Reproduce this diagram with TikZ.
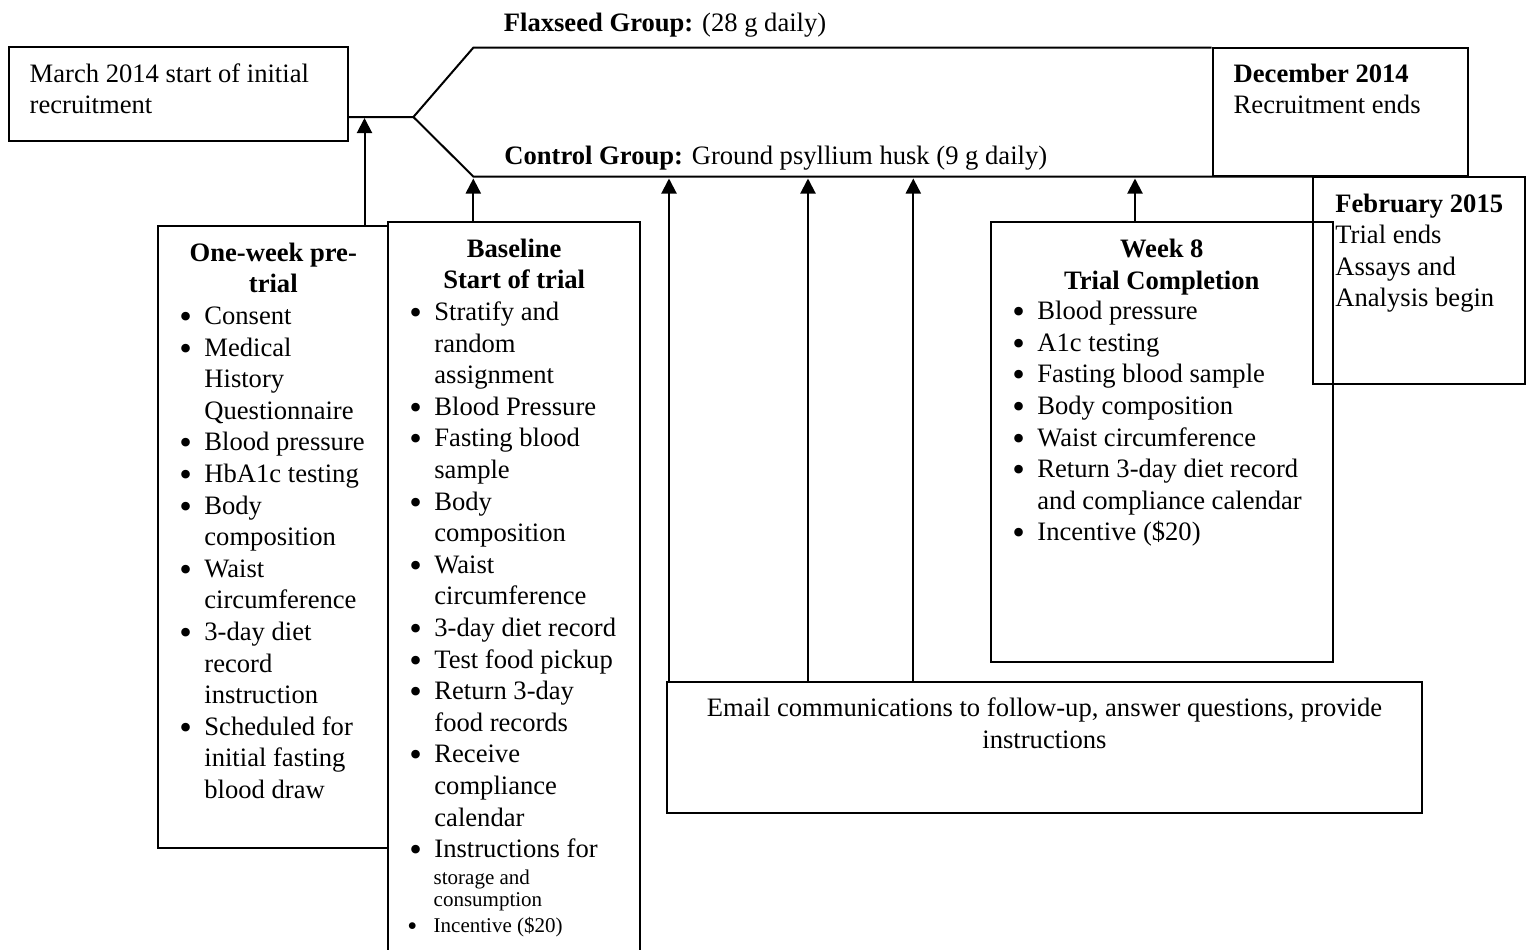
\documentclass[tikz,border=0pt]{standalone}
\usepackage{fontspec}
\setmainfont{Liberation Serif}
\usetikzlibrary{arrows.meta,fit}
\newcommand\fsz{\fontsize{13.3}{15.8}\selectfont}
\newcommand\fsm{\fontsize{10.5}{11}\selectfont}
\newcommand\fst{\rule{0pt}{11pt}}
\newcommand\bigbul{\hspace*{-0.8pt}\smash{\raisebox{-2pt}{\scalebox{1.35}{\textbullet}}}}
\newcommand\bul[1]{\makebox[11.75pt][l]{\bigbul}#1}
\newcommand\cnt[1]{\hspace*{11.75pt}#1}
\begin{document}
\begin{tikzpicture}[x=0.5pt,y=-0.5pt,
  box/.style={draw, line width=1pt, inner sep=0pt},
  ln/.style={line width=1pt},
  arr/.style={line width=1pt, -{Triangle[length=7.5pt,width=7.5pt]}},
  txt/.style={inner sep=0pt, anchor=north west, align=left, font=\fsz},
  ctr/.style={inner sep=0pt, anchor=north, align=center, font=\fsz\bfseries},
  ctn/.style={inner sep=0pt, anchor=north, align=center, font=\fsz},
  lbl/.style={inner sep=0pt, anchor=base west, font=\fsz}
]
\useasboundingbox (0,0) rectangle (1528,949);
% boxes
\node[box, fit={(8.5,47) (348,141)}] (march) {};
\node[box, fit={(1212.7,47.7) (1468,175.5)}] (dec) {};
\node[box, fit={(1313.3,177.3) (1525.3,384)}] (feb) {};
\node[box, fit={(158.3,225.7) (388.3,848.3)}] (pre) {};
\node[box, fit={(388.3,221.7) (640,960)}] (base) {};
\node[box, fit={(991,221.7) (1332.7,661.7)}] (week) {};
\node[box, fit={(667.3,681.7) (1421.7,812.7)}] (email) {};
% branch lines
\coordinate (split) at (413.4,117);
\coordinate (ftop) at (473.3,47.7);
\coordinate (cbot) at (473.3,176.5);
\draw[ln] (march.east |- split) -- (split) -- (ftop) -- (dec.west |- ftop);
\draw[ln] (split) -- (cbot) -- (feb.west |- cbot);
% arrows
\coordinate (t1) at (364.5,118);
\coordinate (t2) at (473.3,178.5);
\coordinate (t3) at (669,178.5);
\coordinate (t4) at (808,178.5);
\coordinate (t5) at (913.3,178.5);
\coordinate (t6) at (1135,178.5);
\draw[arr] (pre.north -| t1) -- (t1);
\draw[arr] (base.north -| t2) -- (t2);
\draw[arr] (email.north -| t3) -- (t3);
\draw[arr] (email.north -| t4) -- (t4);
\draw[arr] (email.north -| t5) -- (t5);
\draw[arr] (week.north -| t6) -- (t6);
% texts
\node[txt] (marcht) at (29.3,59.7) {\fst March 2014 start of initial\\recruitment};
\node[lbl] (flax) at (503.5,31.5) {\textbf{Flaxseed Group:} (28 g daily)};
\node[lbl] (ctrl) at (504,164.5) {\textbf{Control Group:} Ground psyllium husk (9 g daily)};
\node[txt] (dect) at (1233.3,59.7) {\fst\textbf{December 2014}\\Recruitment ends};
\node[txt] (febt) at (1335,189.7) {\fst\textbf{February 2015}\\Trial ends\\Assays and\\Analysis begin};
\node[ctr] (preh) at (273.3,238.7) {\fst One-week pre-\\trial};
\node[txt] (prel) at (180.5,302) {\fst\bul{Consent}\\\bul{Medical}\\\cnt{History}\\\cnt{Questionnaire}\\\bul{Blood pressure}\\\bul{HbA1c testing}\\\bul{Body}\\\cnt{composition}\\\bul{Waist}\\\cnt{circumference}\\\bul{3-day diet}\\\cnt{record}\\\cnt{instruction}\\\bul{Scheduled for}\\\cnt{initial fasting}\\\cnt{blood draw}};
\node[ctr] (baseh) at (514.2,234.7) {\fst Baseline\\Start of trial};
\node[txt] (basel) at (410.5,298) {\fst\bul{Stratify and}\\\cnt{random}\\\cnt{assignment}\\\bul{Blood Pressure}\\\bul{Fasting blood}\\\cnt{sample}\\\bul{Body}\\\cnt{composition}\\\bul{Waist}\\\cnt{circumference}\\\bul{3-day diet record}\\\bul{Test food pickup}\\\bul{Return 3-day}\\\cnt{food records}\\\bul{Receive}\\\cnt{compliance}\\\cnt{calendar}\\\bul{Instructions for}};
\node[txt, font=\fsm] (bases) at (433.3,866) {\rule{0pt}{9pt}storage and\\consumption};
\node[inner sep=0pt, anchor=base west, font=\fsm] (basei) at (408,932) {\makebox[12.65pt][l]{\hspace*{-0.5pt}\smash{\raisebox{-1.5pt}{\scalebox{1.35}{\textbullet}}}}Incentive (\$20)};
\node[ctr] (weekh) at (1161.8,235.3) {\fst Week 8\\Trial Completion};
\node[txt] (weekl) at (1013.5,297.3) {\fst\bul{Blood pressure}\\\bul{A1c testing}\\\bul{Fasting blood sample}\\\bul{Body composition}\\\bul{Waist circumference}\\\bul{Return 3-day diet record}\\\cnt{and compliance calendar}\\\bul{Incentive (\$20)}};
\node[ctn] (emailt) at (1044.5,694) {\fst Email communications to follow-up, answer questions, provide\\instructions};
\end{tikzpicture}
\end{document}
